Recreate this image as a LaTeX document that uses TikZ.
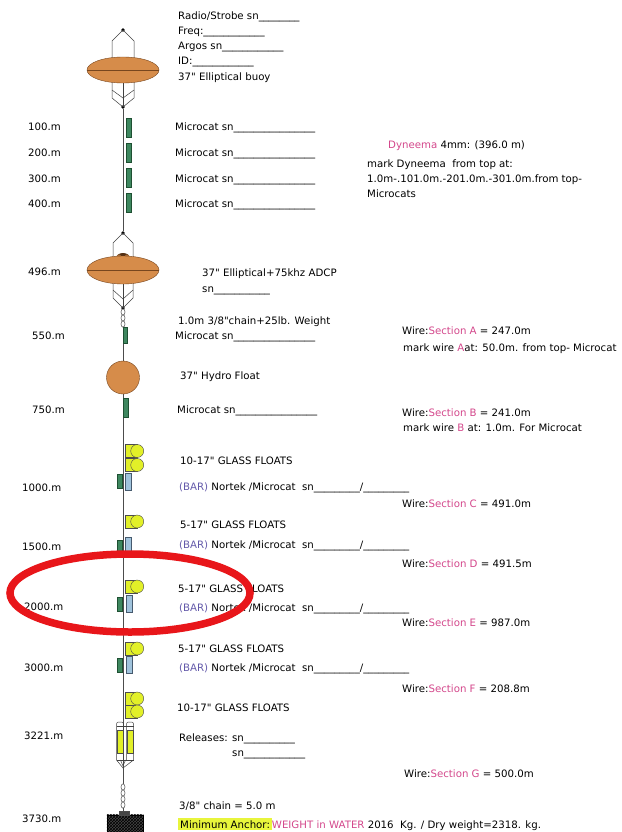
\documentclass[tikz,border=0pt]{standalone}
\usepackage{fontspec}
\setmainfont{DejaVu Sans}
\usetikzlibrary{shapes.geometric,patterns}

\definecolor{buoyfill}{RGB}{214,140,74}
\definecolor{buoyedge}{RGB}{120,70,30}
\definecolor{floatfill}{RGB}{226,240,40}
\definecolor{mcgreen}{RGB}{62,135,95}
\definecolor{mcedge}{RGB}{30,80,50}
\definecolor{ntblue}{RGB}{160,195,220}
\definecolor{ntedge}{RGB}{70,90,110}
\definecolor{pinkish}{RGB}{212,72,140}
\definecolor{barpurple}{RGB}{100,90,170}
\definecolor{hilite}{RGB}{232,245,60}
\definecolor{markred}{RGB}{232,22,26}
\definecolor{sinkerfill}{RGB}{70,70,70}

\newcommand\pinktxt[1]{\textcolor{pinkish}{#1}}
\newcommand\bartxt{\textcolor{barpurple}{(BAR)}}
% straight inch mark, set as a glyph so the font mapping leaves it alone
\newcommand\inch{\XeTeXglyph\XeTeXcharglyph"22\relax}
\setlength\fboxsep{2pt}

\begin{document}
\begin{tikzpicture}[x=1pt,y=-1pt,
  txt/.style={anchor=base west,inner sep=0pt,font=\fontsize{10.2}{12}\selectfont},
  wire/.style={draw=black!70,line width=0.6pt},
  cage/.style={draw=black!75,line width=0.5pt},
  dot/.style={circle,fill=black,inner sep=0pt,minimum size=3.6pt},
  buoy/.style={ellipse,fill=buoyfill,draw=buoyedge,line width=0.4pt,inner sep=0pt},
  microcat/.style={rectangle,fill=mcgreen,draw=mcedge,line width=0.4pt,inner sep=0pt,minimum width=5pt,minimum height=18pt},
  nortek/.style={rectangle,fill=ntblue,draw=ntedge,line width=0.4pt,inner sep=0pt,minimum width=6pt,minimum height=17pt},
  gfbody/.style={rectangle,fill=floatfill,draw=black!70,line width=0.4pt,inner sep=0pt,minimum width=12pt,minimum height=13pt},
  gfcap/.style={circle,fill=floatfill,draw=black!70,line width=0.4pt,inner sep=0pt,minimum size=13pt},
  relbody/.style={rectangle,fill=floatfill,draw=black!70,line width=0.4pt,inner sep=0pt,minimum width=6pt,minimum height=23pt},
  link/.style={draw=black!70,line width=0.5pt},
  sinker/.style={rectangle,fill=sinkerfill,draw=black,line width=0.5pt,inner sep=0pt,minimum width=36pt,minimum height=20pt},
]
\useasboundingbox (0,0) rectangle (621,832);
\fill[white] (0,0) rectangle (621,832);

% ---------- cage and buoy end points ----------
\node[dot] (b1top) at (123,30) {};
\node[dot] (b1bot) at (123,107) {};
\node[dot] (b2top) at (123,233) {};
\node[dot] (b2bot) at (123,308) {};
\coordinate (relbot) at (123,768);
\coordinate (chaintop) at (123,784);

% ---------- mooring line ----------
\draw[wire] (b1bot) -- (b2top);
\draw[wire] (b2bot) -- (123,326);
\draw[wire] (123,326) -- (relbot);
\draw[wire] (relbot) -- (chaintop);

% ---------- top buoy ----------
\draw[cage] (b1top.center) -- (112,41) -- (112,98) -- (b1bot.center) -- (134,98) -- (134,41) -- cycle;
\draw[cage] (123,80) -- (b1bot.center);
\draw[cage] (112,90) -- (123,98) -- (134,90);
\node[buoy,minimum width=72pt,minimum height=26pt] (b1) at (123,70) {};
\draw[buoyedge,line width=0.7pt] (b1.west) -- (b1.east);

% ---------- near-surface microcats ----------
\node[microcat,minimum height=19pt] (m1) at (128.5,127.5) {};
\node[microcat,minimum height=19pt] (m2) at (128.5,152.5) {};
\node[microcat,minimum height=19pt] (m3) at (128.5,177.5) {};
\node[microcat,minimum height=19pt] (m4) at (128.5,202.5) {};

% ---------- ADCP buoy ----------
\draw[cage] (b2top.center) -- (113,243) -- (113,298) -- (b2bot.center) -- (133,298) -- (133,243) -- cycle;
\draw[cage] (123,283) -- (b2bot.center);
\draw[cage] (113,290) -- (123,299) -- (133,290);
\fill[buoyedge!70!black] (116,258) arc[start angle=180,end angle=0,x radius=7pt,y radius=5pt] -- cycle;
\fill[buoyfill!80!black] (119,256) ellipse[x radius=2pt,y radius=1.5pt];
\fill[buoyfill!80!black] (127,256) ellipse[x radius=2pt,y radius=1.5pt];
\node[buoy,minimum width=72pt,minimum height=28pt] (b2) at (123,270) {};
\draw[buoyedge,line width=0.7pt] (b2.west) -- (b2.east);

% chain below the ADCP
\foreach \yy in {312,318,324}
  \draw[link,fill=white] (123,\yy) ellipse[x radius=2pt,y radius=3.2pt];
\node[microcat,minimum width=4.5pt,minimum height=16pt] (m5) at (125,335.5) {};

% ---------- hydro float ----------
\node[circle,fill=buoyfill,draw=buoyedge,line width=0.4pt,inner sep=0pt,minimum size=33pt] (hf) at (123,377.5) {};
\node[microcat,minimum height=19pt] (m6) at (126,407.5) {};

% ---------- glass float groups with instrument pairs ----------
% 1000 m
\node[gfbody] (g1a) at (131,451) {};
\node[gfcap] (g1ac) at (g1a.east) {};
\node[gfbody] (g1b) at (131,465) {};
\node[gfcap] (g1bc) at (g1b.east) {};
\node[microcat,minimum height=14pt] (i1m) at (119.5,481.5) {};
\node[nortek] (i1n) at (128.5,481.5) {};
% 1500 m
\node[gfbody] (g2a) at (131,521.5) {};
\node[gfcap] (g2ac) at (g2a.east) {};
\node[microcat,minimum height=14pt] (i2m) at (119.5,547) {};
\node[nortek] (i2n) at (128.5,545.5) {};
% 2000 m
\node[gfbody] (g3a) at (131,586.5) {};
\node[gfcap] (g3ac) at (g3a.east) {};
\node[microcat,minimum height=14pt] (i3m) at (119.5,604) {};
\node[nortek] (i3n) at (129,603.5) {};
% 3000 m
\node[gfbody] (g4a) at (131,648.5) {};
\node[gfcap] (g4ac) at (g4a.east) {};
\node[microcat,minimum height=14pt] (i4m) at (119.5,665) {};
\node[nortek] (i4n) at (129,665) {};
% above the releases
\node[gfbody] (g5a) at (131,698.5) {};
\node[gfcap] (g5ac) at (g5a.east) {};
\node[gfbody] (g5b) at (131,711.5) {};
\node[gfcap] (g5bc) at (g5b.east) {};

% ---------- acoustic releases ----------
\draw[cage,rounded corners=2pt] (116.5,760) -- (116.5,722) -- (123.5,722) -- (123.5,760);
\draw[cage,rounded corners=2pt] (126.5,760) -- (126.5,722) -- (133.5,722) -- (133.5,760);
\draw[cage] (116.5,726) -- (133.5,726);
\node[relbody] (r1) at (120,741.5) {};
\node[relbody] (r2) at (130,741.5) {};
\draw[cage] (116.5,760) -- (relbot) -- (133.5,760);
\draw[cage] (120.5,760) -- (123,766) -- (125.5,760);
\draw[cage] (116.5,760) -- (133.5,760);

% ---------- anchor chain and anchor ----------
\foreach \yy in {787,793,799,805}
  \draw[link,fill=white] (123,\yy) ellipse[x radius=2pt,y radius=3.2pt];
\node[sinker] (anc) at (125,825) {};
\fill[pattern=crosshatch,pattern color=black] (anc.south west) rectangle (anc.north east);
\draw[black,line width=0.5pt] (anc.south west) rectangle (anc.north east);
\draw[link,fill=sinkerfill] (119,815) rectangle (129,811);
\draw[wire] (123,808) -- (123,811);

% ---------- depth labels ----------
\node[txt] (d100) at (28,131) {100.m};
\node[txt] (d200) at (28,157) {200.m};
\node[txt] (d300) at (28,182) {300.m};
\node[txt] (d400) at (28,207) {400.m};
\node[txt] (d496) at (28,275) {496.m};
\node[txt] (d550) at (32,339) {550.m};
\node[txt] (d750) at (32,413) {750.m};
\node[txt] (d1000) at (22,491) {1000.m};
\node[txt] (d1500) at (22,550) {1500.m};
\node[txt] (d2000) at (24,610) {2000.m};
\node[txt] (d3000) at (24,671) {3000.m};
\node[txt] (d3221) at (24,739) {3221.m};
\node[txt] (d3730) at (22,822) {3730.m};

% ---------- instrument notes ----------
\node[txt] (n1) at (178,20) {Radio/Strobe sn\_\_\_\_\_\_\_\_};
\node[txt] (n2) at (178,35) {Freq:\_\_\_\_\_\_\_\_\_\_\_\_};
\node[txt] (n3) at (178,50) {Argos sn\_\_\_\_\_\_\_\_\_\_\_\_};
\node[txt] (n4) at (178,65) {ID:\_\_\_\_\_\_\_\_\_\_\_\_};
\node[txt] (n5) at (178,81) {37\inch{} Elliptical buoy};

\node[txt] (mc1) at (175,131) {Microcat sn\_\_\_\_\_\_\_\_\_\_\_\_\_\_\_\_};
\node[txt] (mc2) at (175,157) {Microcat sn\_\_\_\_\_\_\_\_\_\_\_\_\_\_\_\_};
\node[txt] (mc3) at (175,182) {Microcat sn\_\_\_\_\_\_\_\_\_\_\_\_\_\_\_\_};
\node[txt] (mc4) at (175,207) {Microcat sn\_\_\_\_\_\_\_\_\_\_\_\_\_\_\_\_};

\node[txt] (ad1) at (202,276) {37\inch{} Elliptical+75khz ADCP};
\node[txt] (ad2) at (202,292) {sn\_\_\_\_\_\_\_\_\_\_\_};
\node[txt] (ch1) at (178,324) {1.0m 3/8\inch{}chain+25lb. Weight};
\node[txt] (mc5) at (175,339) {Microcat sn\_\_\_\_\_\_\_\_\_\_\_\_\_\_\_\_};
\node[txt] (hf1) at (180,379) {37\inch{} Hydro Float};
\node[txt] (mc6) at (177,413) {Microcat sn\_\_\_\_\_\_\_\_\_\_\_\_\_\_\_\_};

\node[txt] (gf1) at (180,464) {10-17\inch{} GLASS FLOATS};
\node[txt] (nt1) at (179,490) {\bartxt{} Nortek /Microcat~~sn\_\_\_\_\_\_\_\_\_/\_\_\_\_\_\_\_\_\_};
\node[txt] (gf2) at (180,528) {5-17\inch{} GLASS FLOATS};
\node[txt] (nt2) at (179,548) {\bartxt{} Nortek /Microcat~~sn\_\_\_\_\_\_\_\_\_/\_\_\_\_\_\_\_\_\_};
\node[txt] (gf3) at (178,592) {5-17\inch{} GLASS FLOATS};
\node[txt] (nt3) at (179,611) {\bartxt{} Nortek /Microcat~~sn\_\_\_\_\_\_\_\_\_/\_\_\_\_\_\_\_\_\_};
\node[txt] (gf4) at (178,652) {5-17\inch{} GLASS FLOATS};
\node[txt] (nt4) at (179,671) {\bartxt{} Nortek /Microcat~~sn\_\_\_\_\_\_\_\_\_/\_\_\_\_\_\_\_\_\_};
\node[txt] (gf5) at (177,711) {10-17\inch{} GLASS FLOATS};
\node[txt] (rl1) at (179,741) {Releases: sn\_\_\_\_\_\_\_\_\_\_};
\node[txt] (rl2) at (232,756) {sn\_\_\_\_\_\_\_\_\_\_\_\_};
\node[txt] (ch2) at (179,809) {3/8\inch{} chain = 5.0 m};
\node[txt] (anw) at (178,828) {\colorbox{hilite}{Minimum Anchor:}\pinktxt{WEIGHT in WATER} 2016~~Kg. / Dry weight=2318. kg.};

% ---------- line sections ----------
\node[txt] (dy1) at (388,148) {\pinktxt{Dyneema} 4mm: (396.0 m)};
\node[txt] (dy2) at (367,167) {mark Dyneema~~from top at:};
\node[txt] (dy3) at (367,182) {1.0m-.101.0m.-201.0m.-301.0m.from top-};
\node[txt] (dy4) at (367,197) {Microcats};
\node[txt] (sa1) at (402,334) {Wire:\pinktxt{Section A} = 247.0m};
\node[txt] (sa2) at (403,351) {mark wire \pinktxt{A}at: 50.0m. from top- Microcat};
\node[txt] (sb1) at (402,416) {Wire:\pinktxt{Section B} = 241.0m};
\node[txt] (sb2) at (403,431) {mark wire \pinktxt{B} at: 1.0m. For Microcat};
\node[txt] (sc) at (402,507) {Wire:\pinktxt{Section C} = 491.0m};
\node[txt] (sd) at (402,567) {Wire:\pinktxt{Section D} = 491.5m};
\node[txt] (se) at (402,626) {Wire:\pinktxt{Section E} = 987.0m};
\node[txt] (sf) at (402,692) {Wire:\pinktxt{Section F} = 208.8m};
\node[txt] (sg) at (404,777) {Wire:\pinktxt{Section G} = 500.0m};

% ---------- red ring around the 2000 m group ----------
\draw[markred,line width=7.5pt] (130,593) ellipse[x radius=120pt,y radius=39pt];
\end{tikzpicture}
\end{document}
